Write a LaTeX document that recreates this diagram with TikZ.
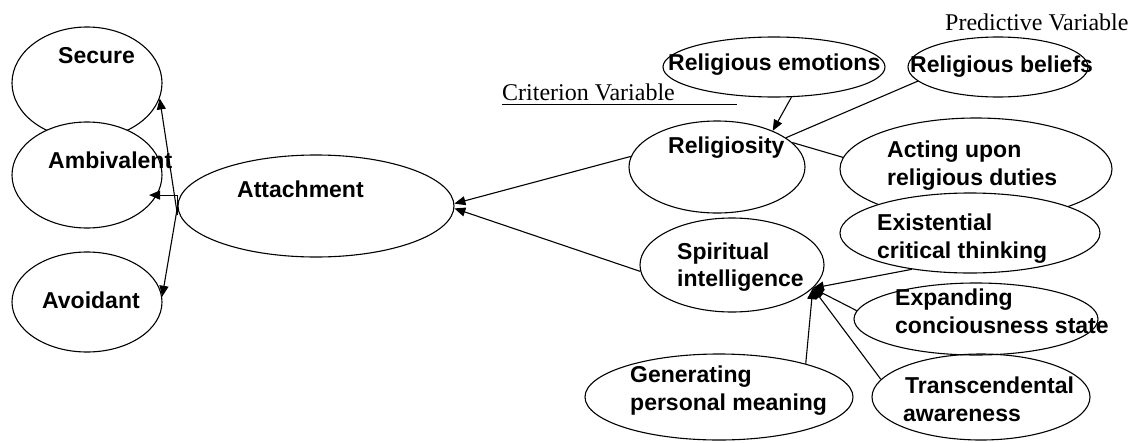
\documentclass[tikz,border=0pt]{standalone}
\usepackage{fontspec}
\setmainfont{Liberation Sans}
\newfontfamily\serifnm{Liberation Serif}
\usetikzlibrary{shapes.geometric,arrows.meta}
\tikzset{
  ell/.style={draw, ellipse, inner sep=0pt, line width=1.1pt},
  lbl/.style={inner sep=0pt, anchor=base west, font=\fontsize{23}{28}\selectfont\bfseries},
  captxt/.style={inner sep=0pt, anchor=base west, font=\serifnm\fontsize{24}{28}\selectfont},
  conn/.style={line width=1.1pt},
  arr/.style={line width=1.1pt, -{Triangle[length=11pt,width=9pt]}}
}
\begin{document}
\begin{tikzpicture}[x=1pt,y=-1pt]
\useasboundingbox[fill=white] (0,0) rectangle (1141,442);
% ellipses
\node[ell, minimum width=150pt, minimum height=112pt] (sec) at (87,83) {};
\node[ell, fill=white, minimum width=150pt, minimum height=106pt] (amb) at (87,175) {};
\node[ell, minimum width=150pt, minimum height=100pt] (avo) at (87,302) {};
\node[ell, minimum width=276pt, minimum height=102pt] (att) at (316,206) {};
\node[ell, minimum width=222pt, minimum height=60pt] (emo) at (774,67) {};
\node[ell, minimum width=180pt, minimum height=60pt] (bel) at (998,67) {};
\node[ell, minimum width=176pt, minimum height=92pt] (rel) at (717,167) {};
\node[ell, minimum width=272pt, minimum height=102pt] (act) at (976,169) {};
\node[ell, fill=white, minimum width=260pt, minimum height=80pt] (ext) at (970,233) {};
\node[ell, minimum width=244pt, minimum height=72pt] (exp) at (976,319) {};
\node[ell, minimum width=218pt, minimum height=86pt] (tra) at (981,397) {};
\node[ell, minimum width=184pt, minimum height=94pt] (spi) at (732,265) {};
\node[ell, minimum width=268pt, minimum height=86pt] (gen) at (719,397) {};
% texts
\node[lbl] (tsec) at (58,63) {Secure};
\node[lbl] (tamb) at (48,168) {Ambivalent};
\node[lbl] (tavo) at (42,308) {Avoidant};
\node[lbl] (tatt) at (237,197) {Attachment};
\node[lbl] (temo) at (668,70) {Religious emotions};
\node[lbl] (tbel) at (910,72) {Religious beliefs};
\node[lbl] (trel) at (668,153) {Religiosity};
\node[lbl] (tact1) at (887,157) {Acting upon};
\node[lbl] (tact2) at (887,185) {religious duties};
\node[lbl] (text1) at (877,230) {Existential};
\node[lbl] (text2) at (877,258) {critical thinking};
\node[lbl] (texp1) at (895,305) {Expanding};
\node[lbl] (texp2) at (895,333) {conciousness state};
\node[lbl] (ttra1) at (905,393) {Transcendental};
\node[lbl] (ttra2) at (903,421) {awareness};
\node[lbl] (tspi1) at (677,259) {Spiritual};
\node[lbl] (tspi2) at (677,286) {intelligence};
\node[lbl] (tgen1) at (630,382) {Generating};
\node[lbl] (tgen2) at (630,410) {personal meaning};
\node[captxt] (pred) at (945,30) {Predictive Variable};
\node[captxt] (crit) at (502,100) {Criterion Variable};
\draw[line width=0.8pt] ([yshift=-4pt]crit.base west) -- ++(235,0);
% connectors
\draw[arr] (rel.173) -- (att.1);
\draw[arr] (spi.184) -- (att.359);
\draw[arr] (emo.-60) -- (rel.33);
\draw[conn] (bel.190) -- (rel.23);
\draw[conn] (act.175) -- (rel.18);
\draw[arr] (ext.212) -- (spi.-16);
\draw[arr] (exp.176) -- (spi.-16);
\draw[arr] (tra.170) -- (spi.-16);
\draw[arr] (gen.21) -- (spi.-16);
\draw[arr] ([yshift=-9pt]att.west) -- (sec.-12);
\draw[arr] ([yshift=-1pt]att.west) -- (avo.4);
\draw[arr, shorten >=-8pt] ([yshift=-7pt]att.west) |- (amb.-16);
\end{tikzpicture}
\end{document}
